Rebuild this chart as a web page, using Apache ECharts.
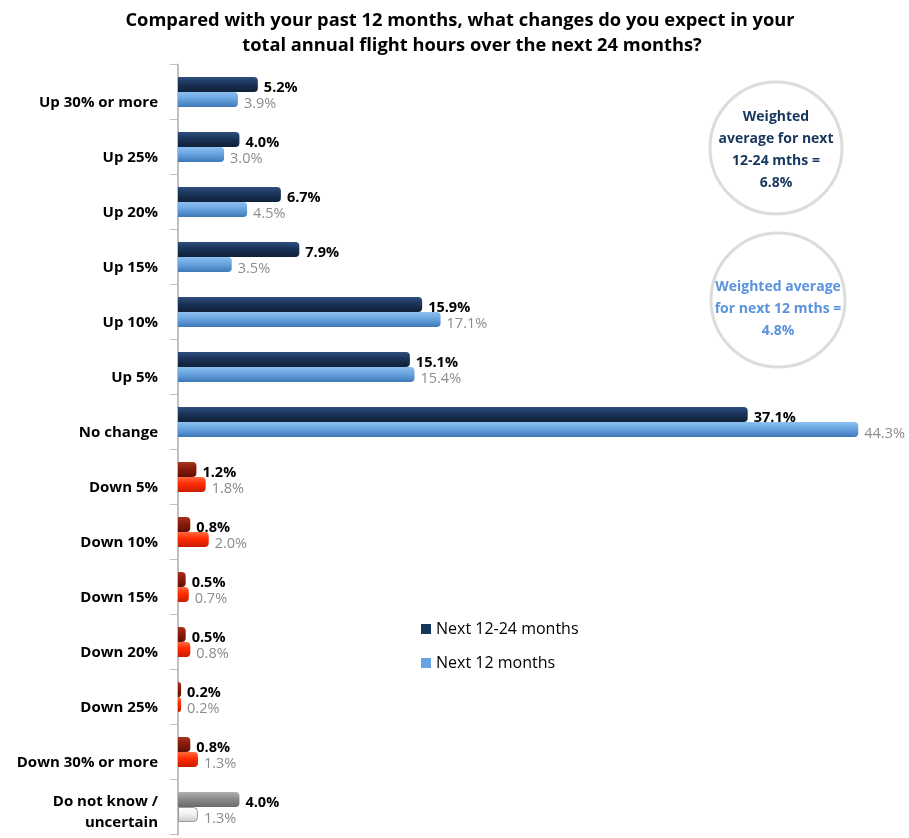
<!DOCTYPE html>
<html><head><meta charset="utf-8">
<script src="https://cdn.jsdelivr.net/npm/echarts@6/dist/echarts.min.js"></script>
<style>html,body{margin:0;padding:0;background:#fff}#c{width:909px;height:838px}</style>
</head><body><div id="c"></div>
<script>
const categories = ["Up 30% or more","Up 25%","Up 20%","Up 15%","Up 10%","Up 5%","No change","Down 5%","Down 10%","Down 15%","Down 20%","Down 25%","Down 30% or more","Do not know /\nuncertain"];
const next1224 = [5.2,4.0,6.7,7.9,15.9,15.1,37.1,1.2,0.8,0.5,0.5,0.2,0.8,4.0];
const next12 = [3.9,3.0,4.5,3.5,17.1,15.4,44.3,1.8,2.0,0.7,0.8,0.2,1.3,1.3];
const groups = ["up","up","up","up","up","up","up","down","down","down","down","down","down","dk"];
const seriesNames = ["Next 12-24 months","Next 12 months"];
const titleLines = ["Compared with your past 12 months, what changes do you expect in your","total annual flight hours over the next 24 months?"];

function grad(a,b,c){return {type:'linear',x:0,y:0,x2:0,y2:1,colorStops:[{offset:0,color:a},{offset:0.45,color:b},{offset:1,color:c}]};}
const darkCol = {up:grad('#2f4f7f','#1a3358','#0f2038'),down:grad('#a8321f','#8a1a0b','#5e0f05'),dk:grad('#b0b0b0','#8c8c8c','#6a6a6a')};
const lightCol = {up:grad('#8cc0f0','#6aa4e0','#3f78b8'),down:grad('#ff6a40','#ff2a00','#c81e00'),dk:grad('#ffffff','#f2f2f2','#c8c8c8')};

const chart = echarts.init(document.getElementById('c'));
chart.setOption({
  animation:false,
  title:[
    {text:titleLines[0],left:455,textAlign:'center',top:7,textStyle:{fontFamily:'Open Sans',fontWeight:'bold',fontSize:18.3,color:'#000'}},
    {text:titleLines[1],left:467,textAlign:'center',top:32,textStyle:{fontFamily:'Open Sans',fontWeight:'bold',fontSize:18.3,color:'#000'}}
  ],
  grid:{left:178,right:40,top:64.5,bottom:3.5,containLabel:false},
  xAxis:{type:'value',min:0,max:45,show:false},
  yAxis:{type:'category',inverse:true,data:categories,
    axisLine:{show:true,lineStyle:{color:'#bfbfbf',width:2}},
    axisTick:{show:true,length:8,lineStyle:{color:'#bfbfbf'}},
    axisLabel:{margin:20,align:'right',
      formatter:v=>{const ls=v.split('\n');return (ls.length>1?'{s2| }':'{s| }')+'\n'+ls.map(l=>'{a|'+l+'}').join('\n');},
      rich:{s:{lineHeight:21,fontSize:1,align:'right'},s2:{lineHeight:11,fontSize:1,align:'right'},
        a:{fontFamily:'Open Sans',fontWeight:'bold',fontSize:15,color:'#000',lineHeight:21,align:'right'}}}},
  legend:{orient:'vertical',left:416,top:616,itemWidth:10,itemHeight:10,itemGap:18,icon:'rect',
    textStyle:{fontFamily:'Open Sans',fontSize:16,color:'#000'},data:seriesNames},
  series:[
    {name:seriesNames[0],type:'bar',barWidth:15,barGap:'0%',itemStyle:{color:'#17365d',borderRadius:[0,4,4,0]},
      data:next1224.map((v,i)=>({value:v,itemStyle:{color:darkCol[groups[i]]}})),
      label:{show:true,position:'right',distance:6,offset:[0,3],formatter:p=>p.value.toFixed(1)+'%',fontFamily:'Open Sans',fontWeight:'bold',fontSize:14.5,color:'#000'}},
    {name:seriesNames[1],type:'bar',barWidth:15,itemStyle:{color:'#6aa4e0',borderRadius:[0,4,4,0]},
      data:next12.map((v,i)=>({value:v,itemStyle:{color:lightCol[groups[i]],borderColor:groups[i]==='dk'?'#9a9a9a':undefined,borderWidth:groups[i]==='dk'?1:0}})),
      label:{show:true,position:'right',distance:6,offset:[0,4],formatter:p=>p.value.toFixed(1)+'%',fontFamily:'Open Sans',fontSize:14.5,color:'#8c8c8c'}}
  ],
  graphic:[
    {type:'circle',shape:{cx:776,cy:148,r:66},style:{fill:'#fff',stroke:'#dcdcdc',lineWidth:3}},
    {type:'text',x:776,y:150,style:{text:'Weighted\naverage for next\n12-24 mths =\n6.8%',textAlign:'center',textVerticalAlign:'middle',fontFamily:'Open Sans',fontWeight:'bold',fontSize:14,lineHeight:22,fill:'#17365d'}},
    {type:'circle',shape:{cx:778,cy:300,r:67},style:{fill:'#fff',stroke:'#dcdcdc',lineWidth:3}},
    {type:'text',x:778,y:309,style:{text:'Weighted average\nfor next 12 mths =\n4.8%',textAlign:'center',textVerticalAlign:'middle',fontFamily:'Open Sans',fontWeight:'bold',fontSize:14,lineHeight:22,fill:'#5b93dc'}}
  ]
});
</script></body></html>
